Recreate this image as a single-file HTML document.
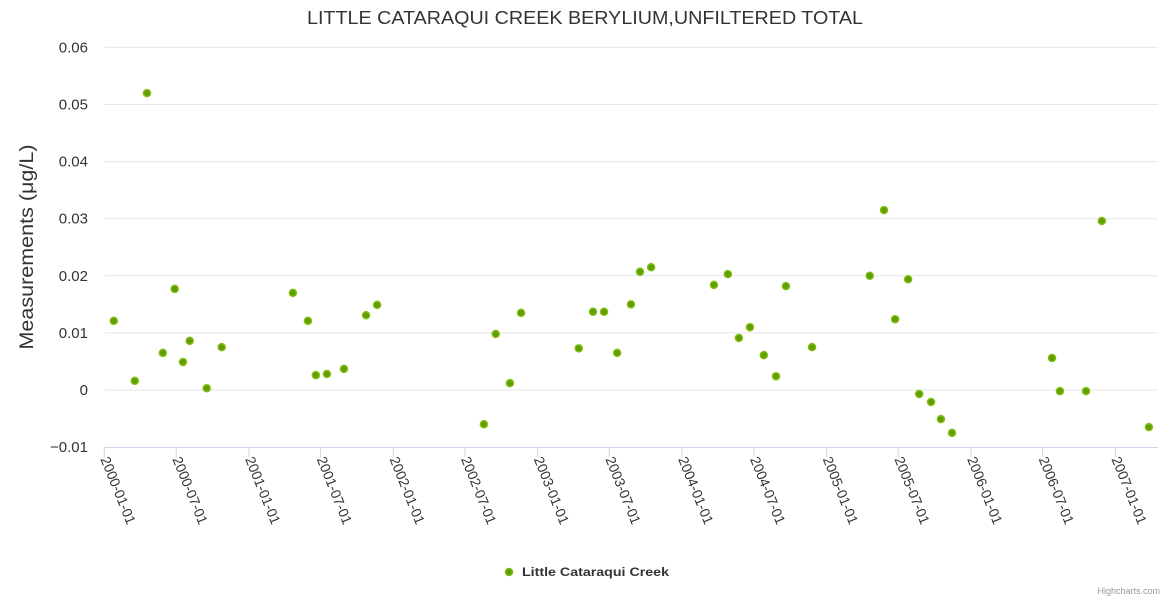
<!DOCTYPE html>
<html><head><meta charset="utf-8"><style>
body{margin:0;background:#fff;}
svg{display:block;font-family:"Liberation Sans",sans-serif;}
</style></head><body>
<svg id="chart" width="1170" height="600">
<text x="585" y="24" text-anchor="middle" font-size="18" fill="#333" textLength="556" lengthAdjust="spacingAndGlyphs">LITTLE CATARAQUI CREEK BERYLIUM,UNFILTERED TOTAL</text>
<text transform="translate(33,247) rotate(-90)" text-anchor="middle" font-size="19" fill="#333" textLength="205" lengthAdjust="spacingAndGlyphs">Measurements (μg/L)</text>
<g id="grid"></g><g id="xaxis"></g><g id="pts"></g>
<g>
<circle cx="509" cy="572" r="3.5" fill="#5f9e00" stroke="#80bb10" stroke-width="1.5"></circle>
<text x="522" y="576" font-size="12" font-weight="bold" fill="#333" textLength="147" lengthAdjust="spacingAndGlyphs">Little Cataraqui Creek</text>
</g>
<text x="1160" y="594" text-anchor="end" font-size="9" fill="#999">Highcharts.com</text>
</svg>
<script>
const dates=["2000-01-25","2000-03-18","2000-04-18","2000-05-28","2000-06-27","2000-07-18","2000-08-04","2000-09-16","2000-10-24","2001-04-22","2001-05-30","2001-06-19","2001-07-17","2001-08-29","2001-10-24","2001-11-21","2002-08-18","2002-09-17","2002-10-23","2002-11-20","2003-04-15","2003-05-21","2003-06-18","2003-07-21","2003-08-25","2003-09-17","2003-10-15","2004-03-22","2004-04-26","2004-05-24","2004-06-21","2004-07-26","2004-08-26","2004-09-20","2004-11-25","2005-04-20","2005-05-26","2005-06-23","2005-07-26","2005-08-23","2005-09-22","2005-10-17","2005-11-14","2006-07-25","2006-08-14","2006-10-19","2006-11-28","2007-03-27"];
const values=[0.0121,0.0016,0.052,0.0065,0.0177,0.0049,0.0086,0.0003,0.0075,0.017,0.0121,0.0026,0.0028,0.0037,0.0131,0.0149,-0.006,0.0098,0.0012,0.0135,0.0073,0.0137,0.0137,0.0065,0.015,0.0207,0.0215,0.0184,0.0203,0.0091,0.011,0.0061,0.0024,0.0182,0.0075,0.02,0.0315,0.0124,0.0194,-0.0007,-0.0021,-0.0051,-0.0075,0.0056,-0.0002,-0.0002,0.0296,-0.0065];
const yTicks=[-0.01,0,0.01,0.02,0.03,0.04,0.05,0.06];
const yTickLabels=["−0.01","0","0.01","0.02","0.03","0.04","0.05","0.06"];
const xTicks=["2000-01-01","2000-07-01","2001-01-01","2001-07-01","2002-01-01","2002-07-01","2003-01-01","2003-07-01","2004-01-01","2004-07-01","2005-01-01","2005-07-01","2006-01-01","2006-07-01","2007-01-01"];
const NS="http://www.w3.org/2000/svg";
const t0=Date.UTC(2000,0,1),t1=Date.UTC(2007,0,1);
function xs(d){const t=Date.parse(d+"T00:00:00Z");return 104.3+(t-t0)/(t1-t0)*1011;}
function ys(v){return 390-v*5710;}
function mk(tag,attrs,parent){const e=document.createElementNS(NS,tag);for(const k in attrs)e.setAttribute(k,attrs[k]);parent.appendChild(e);return e;}
const grid=document.getElementById('grid');
yTicks.forEach((v,i)=>{
  if(i>0){const l=mk('line',{x1:105,x2:1158,y1:ys(v),y2:ys(v),stroke:'#e6e6e6','stroke-width':1},grid);
  
  }
  const t=mk('text',{x:88,y:ys(v)+5,'text-anchor':'end','font-size':15,fill:'#333'},grid);
  t.textContent=yTickLabels[i];
  
  
});
const xa=document.getElementById('xaxis');
const al=mk('line',{x1:104,x2:1158,y1:447.5,y2:447.5,stroke:'#ccd6eb','stroke-width':1},xa);


xTicks.forEach(d=>{
  const x=xs(d);
  const tk=mk('line',{x1:x,x2:x,y1:447,y2:457,stroke:'#ccd6eb','stroke-width':1},xa);
  
  
  const t=mk('text',{transform:`translate(${x-4},${459}) rotate(68)`,'font-size':14,fill:'#333'},xa);
  t.textContent=d;
  
  
});
const pts=document.getElementById('pts');
dates.forEach((d,i)=>{
  const c=mk('circle',{cx:xs(d),cy:ys(values[i]),r:3.5,fill:'#5f9e00',stroke:'#80bb10','stroke-width':1.5},pts);
  
  
});
</script>
</body></html>
